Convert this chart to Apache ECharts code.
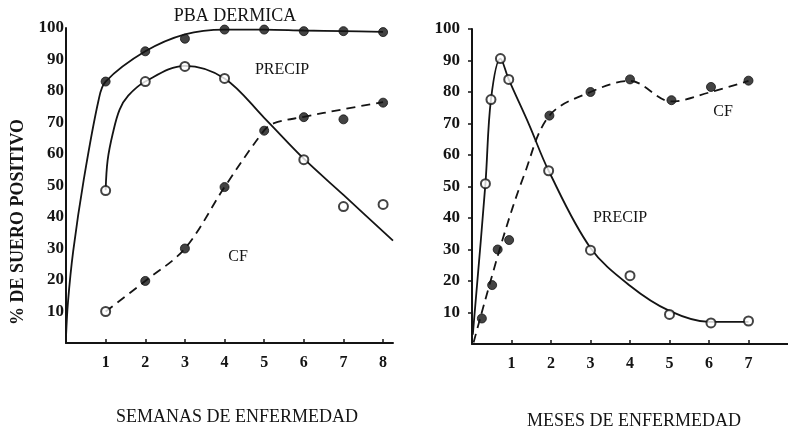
<!DOCTYPE html>
<html>
<head>
<meta charset="utf-8">
<script src="https://cdn.jsdelivr.net/npm/echarts@6/dist/echarts.min.js"></script>
<style>
  html, body { margin: 0; padding: 0; background: #fff; }
  #main { width: 788px; height: 431px; }
</style>
</head>
<body>
<div id="main"></div>
<script>
// ---- datos ----
var weekTicks = [1, 2, 3, 4, 5, 6, 7, 8];
var monthTicks = [1, 2, 3, 4, 5, 6, 7];
var yTicks = [10, 20, 30, 40, 50, 60, 70, 80, 90, 100];

// semanas de enfermedad
var pbaWeekPts = [[1, 83], [2, 92.6], [3, 96.6], [4, 99.5], [5, 99.5], [6, 99], [7, 99], [8, 98.7]];
var pbaWeekCurve = [[0, 2], [0.05, 13], [0.18, 29], [0.45, 52], [0.82, 77], [1, 83], [2, 92.6], [3, 98], [4, 99.5], [5, 99.5], [6, 99.2], [7, 99], [8, 98.8]];
var precipWeekPts = [[1, 48.4], [2, 83], [3, 87.8], [4, 84], [6, 58.2], [7, 43.3], [8, 44]];
var precipWeekCurve = [[1, 48.5], [1.05, 58], [1.18, 66.5], [1.35, 74], [1.57, 78.5], [2, 83], [3, 88], [4, 84], [5, 71.5], [6, 58.5], [7, 47], [8.25, 32.5]];
var cfWeekPts = [[1, 10], [2, 19.7], [3, 30], [4, 49.5], [5, 67.4], [6, 71.7], [7, 71], [8, 76.3]];
var cfWeekCurve = [[1, 10], [2, 19.7], [3, 30], [4, 49.5], [5, 67.5], [5.25, 69.8], [6, 71.8], [7, 74.2], [8, 76.5]];

// meses de enfermedad
var precipMonthPts = [[0.34, 50.9], [0.48, 77.6], [0.72, 90.6], [0.93, 84], [1.94, 55], [3, 29.8], [4, 21.7], [5, 9.4], [6.05, 6.7], [7, 7.3]];
var precipMonthCurve = [[0.02, 3], [0.34, 50.9], [0.48, 77.6], [0.72, 90.6], [0.93, 84], [1.45, 69.5], [1.94, 55], [3, 30.5], [4, 18.5], [5, 10.5], [6, 7], [7, 7]];
var cfMonthPts = [[0.25, 8.1], [0.51, 18.7], [0.65, 30], [0.94, 33], [1.96, 72.5], [3, 80], [4, 84], [5.05, 77.4], [6.05, 81.6], [7, 83.6]];
var cfMonthCurve = [[0.04, 0.5], [0.77, 33], [1.33, 54], [1.96, 72.5], [3, 80], [4, 83.5], [5.05, 77], [6.05, 80], [7, 83.5]];

var ink = "#141414";
var serif = "'Liberation Serif', 'DejaVu Serif', serif";

var filled = { color: ink, borderColor: ink, borderWidth: 1 };
var open = { color: "#fff", borderColor: ink, borderWidth: 2 };

function curve(data, idx, dashed) {
  return {
    type: "line",
    xAxisIndex: idx,
    yAxisIndex: idx,
    data: data,
    smooth: 0.35,
    showSymbol: false,
    silent: true,
    z: 2,
    lineStyle: { color: ink, width: 1.8, type: dashed ? [9, 6] : "solid" },
  };
}

function dots(data, idx, style) {
  return {
    type: "scatter",
    xAxisIndex: idx,
    yAxisIndex: idx,
    data: data,
    symbolSize: 9,
    z: 5,
    itemStyle: style,
  };
}

function xAxis(idx, max, ticks) {
  return {
    type: "value",
    gridIndex: idx,
    min: 0,
    max: max,
    splitLine: { show: false },
    axisLine: { show: true, onZero: false, lineStyle: { color: ink, width: 2 } },
    axisTick: { show: true, inside: true, length: 4, customValues: ticks, lineStyle: { color: ink, width: 1.5 } },
    axisLabel: { customValues: ticks, margin: 12, color: ink, fontSize: 16, fontWeight: "bold", fontFamily: serif },
  };
}

function yAxis(idx, margin, tickLen) {
  return {
    type: "value",
    gridIndex: idx,
    min: 0,
    max: 100,
    splitLine: { show: false },
    axisLine: { show: true, onZero: false, lineStyle: { color: ink, width: 2 } },
    axisTick: { show: tickLen > 0, length: tickLen, customValues: yTicks, lineStyle: { color: ink, width: 1.5 } },
    axisLabel: { customValues: yTicks, margin: margin, color: ink, fontSize: 17, fontWeight: "bold", fontFamily: serif },
  };
}

function label(text, x, y, size) {
  return {
    type: "text",
    x: x,
    y: y,
    style: {
      text: text,
      textAlign: "center",
      textVerticalAlign: "middle",
      fill: ink,
      font: (size || 16) + "px " + serif,
    },
  };
}

var chart = echarts.init(document.getElementById("main"));

var cfWeekData = cfWeekPts.map(function (p, i) {
  return i === 0 ? { value: p, itemStyle: open } : p;
});

var option = {
  backgroundColor: "#fff",
  animation: false,
  grid: [
    { left: 66, top: 28, width: 327, height: 315 },
    { left: 472, top: 29, width: 316, height: 315 },
  ],
  xAxis: [xAxis(0, 8.25, weekTicks), xAxis(1, 8, monthTicks)],
  yAxis: [yAxis(0, 2, 0), yAxis(1, 12, 4)],
  series: [
    curve(pbaWeekCurve, 0, false),
    curve(precipWeekCurve, 0, false),
    curve(cfWeekCurve, 0, true),
    dots(pbaWeekPts, 0, filled),
    dots(precipWeekPts, 0, open),
    dots(cfWeekData, 0, filled),
    curve(precipMonthCurve, 1, false),
    curve(cfMonthCurve, 1, true),
    dots(precipMonthPts, 1, open),
    dots(cfMonthPts, 1, filled),
  ],
  graphic: [
    label("PBA DERMICA", 235, 16, 18),
    label("PRECIP", 282, 70, 16),
    label("CF", 238, 257, 16),
    label("CF", 723, 112, 16),
    label("PRECIP", 620, 218, 16),
    label("SEMANAS DE ENFERMEDAD", 237, 417, 18),
    label("MESES DE ENFERMEDAD", 634, 421, 18),
    {
      type: "text",
      x: 18,
      y: 222,
      rotation: Math.PI / 2,
      style: {
        text: "% DE SUERO POSITIVO",
        textAlign: "center",
        textVerticalAlign: "middle",
        fill: ink,
        font: "bold 18px " + serif,
      },
    },
  ],
};

chart.setOption(option);
</script>
</body>
</html>
